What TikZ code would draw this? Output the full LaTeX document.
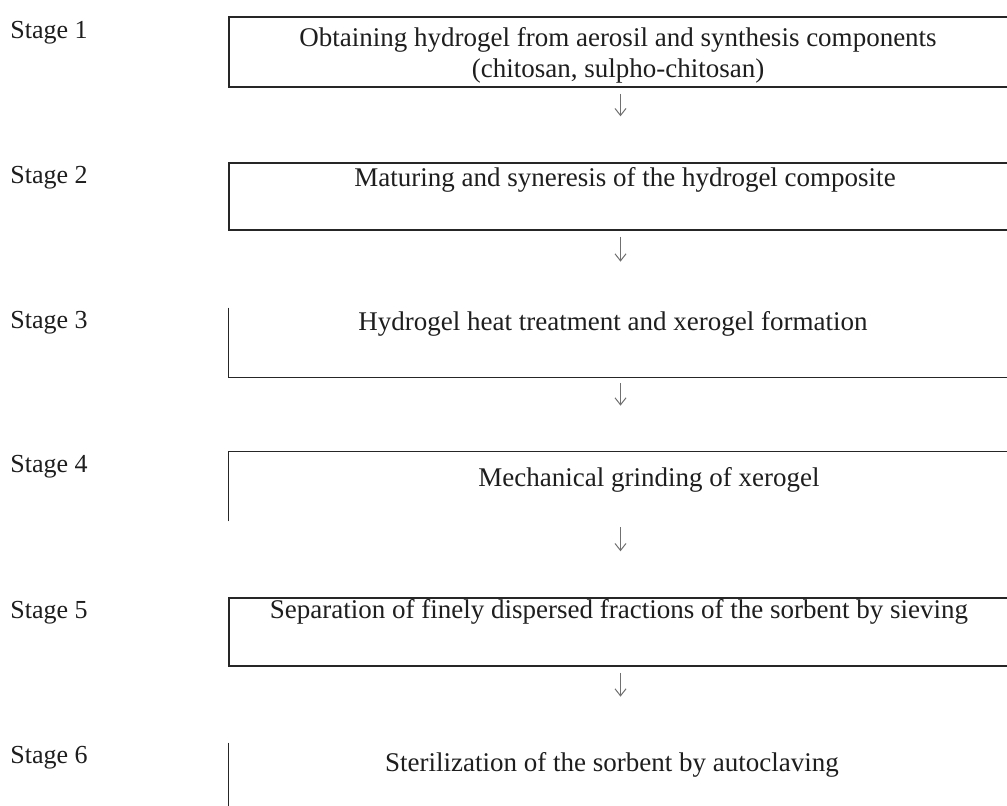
\documentclass[tikz,border=0pt]{standalone}
\usepackage{fontspec}
\setmainfont{Liberation Serif}
\usetikzlibrary{arrows.meta}
\definecolor{ink}{HTML}{1E1E1E}
\definecolor{rule}{HTML}{262626}
\definecolor{arrowgrey}{HTML}{707070}

\begin{document}
\begin{tikzpicture}[
  x=0.5pt, y=-0.5pt,
  font=\fontsize{13}{15}\selectfont,
  stagelbl/.style={anchor=west, inner sep=0pt, text=ink},
  steptext/.style={inner sep=0pt, align=center, text=ink,
    font=\fontsize{13.5}{15.5}\selectfont},
  frame/.style={minimum width=391.5pt, inner sep=0pt},
  fullframe/.style={frame, draw=rule, line width=0.75pt},
  edge/.style={draw=rule, line width=0.75pt},
  flow/.style={-{Straight Barb[length=3.5pt, width=5.5pt]}, draw=arrowgrey,
    line width=0.5pt, shorten <=3pt, shorten >=23pt},
]
  \path[use as bounding box, fill=white] (0,0) rectangle (1007,805);
  \clip (0,0) rectangle (1007,805);

  % stage labels
  \node[stagelbl] (s1) at (10,33) {Stage 1};
  \node[stagelbl] (s2) at (10,178) {Stage 2};
  \node[stagelbl] (s3) at (10,323) {Stage 3};
  \node[stagelbl] (s4) at (10,467) {Stage 4};
  \node[stagelbl] (s5) at (10,613) {Stage 5};
  \node[stagelbl] (s6) at (10,758) {Stage 6};

  % frames (run past the right edge)
  \node[fullframe, minimum height=35pt] (b1) at (620.5,52) {};
  \node[fullframe, minimum height=33.5pt] (b2) at (620.5,196.5) {};
  \node[frame, minimum height=34.5pt] (b3) at (620.5,342.5) {};
  \node[frame, minimum height=34.5pt] (b4) at (620.5,486.5) {};
  \node[fullframe, minimum height=34pt] (b5) at (620.5,632) {};
  \node[frame, minimum height=34.5pt] (b6) at (620.5,777.5) {};
  \draw[edge] (b3.north west) -- (b3.south west) -- (b3.south east);
  \draw[edge] (b4.south west) -- (b4.north west) -- (b4.north east);
  \draw[edge] (b6.north west) -- (b6.south west);

  % texts
  \node[steptext] (t1) at (618,55) {Obtaining hydrogel from aerosil and synthesis components\\(chitosan, sulpho-chitosan)};
  \node[steptext] (t2) at (625,180) {Maturing and syneresis of the hydrogel composite};
  \node[steptext] (t3) at (613,324) {Hydrogel heat treatment and xerogel formation};
  \node[steptext] (t4) at (649,480) {Mechanical grinding of xerogel};
  \node[steptext] (t5) at (619,612) {Separation of finely dispersed fractions of the sorbent by sieving};
  \node[steptext] (t6) at (612,765) {Sterilization of the sorbent by autoclaving};

  % arrows between stages
  \draw[flow] (b1.south) -- (b2.north);
  \draw[flow] (b2.south) -- (b3.north);
  \draw[flow] (b3.south) -- (b4.north);
  \draw[flow] (b4.south) -- (b5.north);
  \draw[flow] (b5.south) -- (b6.north);
\end{tikzpicture}
\end{document}
